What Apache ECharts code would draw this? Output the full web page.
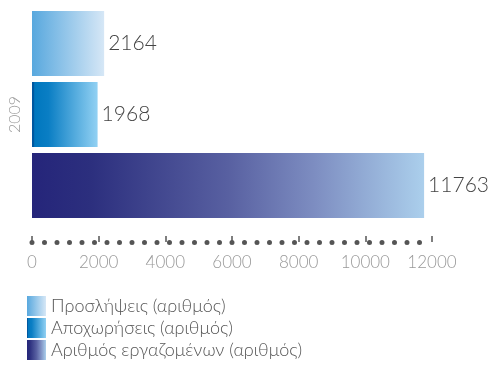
<!DOCTYPE html>
<html>
<head>
<meta charset="utf-8">
<style>
  html, body { margin: 0; padding: 0; background: #fff; }
  #chart { width: 489px; height: 365px; }
</style>
<script src="https://cdn.jsdelivr.net/npm/echarts@6/dist/echarts.min.js"></script>
</head>
<body>
<div id="chart"></div>
<script>
// Year shown on the category axis
const years = ['2009'];
// Series names (legend)
const seriesNames = [
  'Προσλήψεις (αριθμός)',
  'Αποχωρήσεις (αριθμός)',
  'Αριθμός εργαζομένων (αριθμός)'
];
// Values per series
const hires = [2164];
const departures = [1968];
const employees = [11763];
// Value axis range
const axisMin = 0;
const axisMax = 12000;
const axisStep = 2000;

const chart = echarts.init(document.getElementById('chart'), null, { renderer: 'canvas' });

function grad(stops) {
  return new echarts.graphic.LinearGradient(0, 0, 1, 0,
    stops.map(s => ({ offset: s[0], color: s[1] })));
}

const fills = [
  grad([[0, '#58a8de'], [1, '#d6e7f6']]),
  grad([[0, '#0058a0'], [0.03, '#0058a0'], [0.04, '#0077be'], [0.25, '#0a7ec4'], [1, '#92d1f3']]),
  grad([[0, '#25257a'], [0.15, '#2c2f7e'], [0.5, '#5860a1'], [0.72, '#7d8dc1'], [1, '#abcfec']])
];

const labelFont = 'Lato, "Open Sans", "DejaVu Sans", sans-serif';

const valueLabel = {
  show: true,
  position: 'right',
  distance: 4,
  fontSize: 21,
  fontWeight: 300,
  fontFamily: labelFont,
  color: '#444'
};

const seriesData = [hires, departures, employees];

chart.setOption({
  animation: false,
  grid: { left: 32, right: 57, top: 11, bottom: 147, containLabel: false },
  legend: {
    orient: 'vertical',
    left: 27,
    top: 296,
    height: 80,
    itemWidth: 19,
    itemHeight: 20,
    itemGap: 2,
    icon: 'rect',
    padding: 0,
    textStyle: { fontSize: 18, color: '#555', fontFamily: labelFont, fontWeight: 300 },
    data: seriesNames
  },
  xAxis: {
    type: 'value',
    min: axisMin,
    max: axisMax,
    interval: axisStep,
    offset: 24,
    splitLine: { show: false },
    axisLine: {
      show: true,
      lineStyle: { color: '#555', width: 5, type: [0, 12.5], cap: 'round' }
    },
    axisTick: {
      show: true,
      inside: true,
      length: 6,
      lineStyle: { color: '#555', width: 1.5 }
    },
    axisLabel: {
      margin: 12,
      fontSize: 17,
      fontWeight: 300,
      fontFamily: labelFont,
      color: '#999',
      formatter: v => String(v)
    }
  },
  yAxis: {
    type: 'category',
    data: years,
    inverse: true,
    axisLine: { show: false },
    axisTick: { show: false },
    axisLabel: {
      rotate: 90,
      margin: 9,
      fontSize: 16,
      fontWeight: 300,
      fontFamily: labelFont,
      color: '#999'
    }
  },
  series: seriesNames.map((name, i) => ({
    name: name,
    type: 'bar',
    data: seriesData[i],
    barWidth: 65,
    barGap: '9.2%',
    barCategoryGap: '0%',
    itemStyle: { color: fills[i] },
    label: valueLabel
  }))
});
</script>
</body>
</html>
